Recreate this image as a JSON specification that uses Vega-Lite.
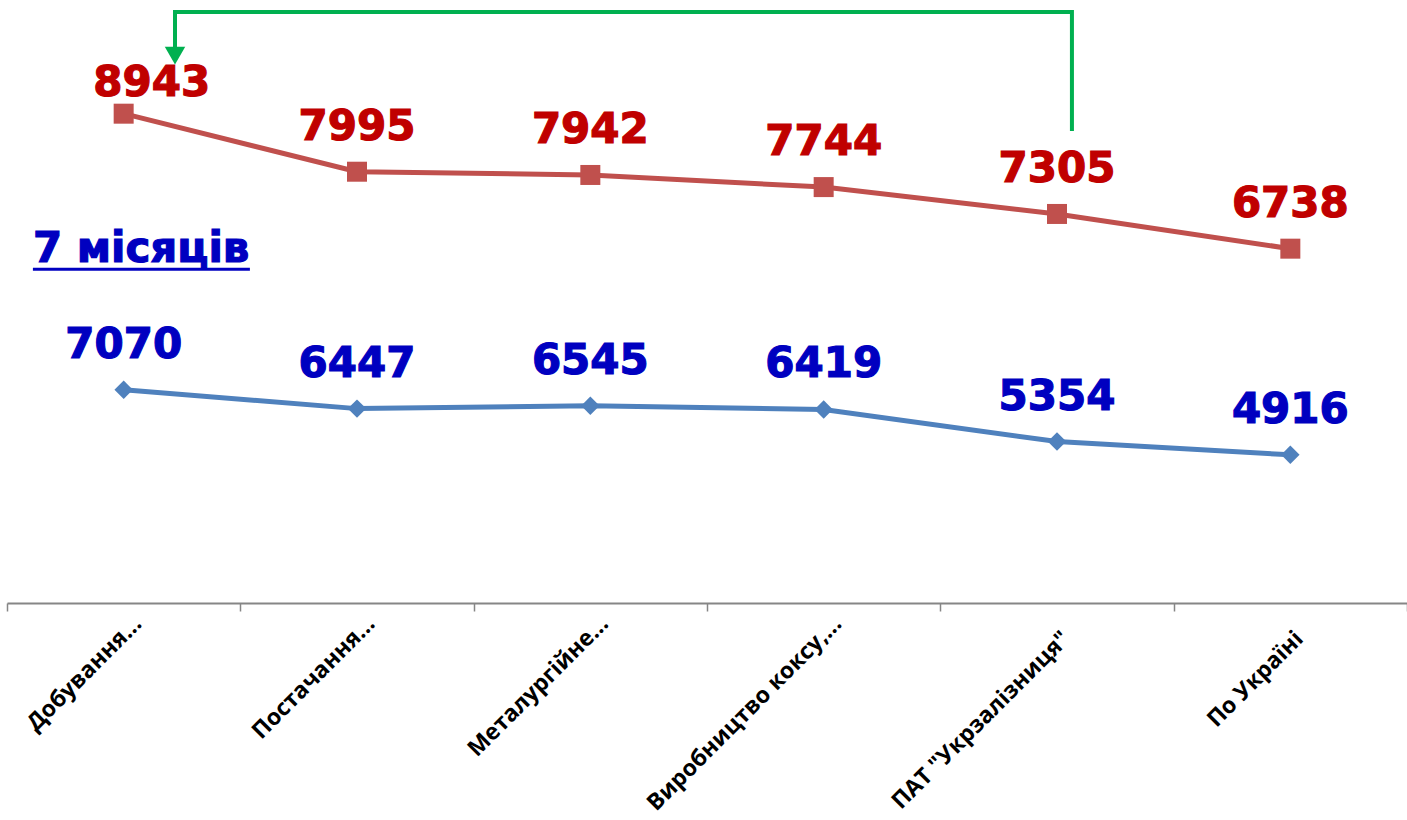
{
  "$schema": "https://vega.github.io/schema/vega-lite/v6.json",
  "autosize": "none",
  "width": 1400,
  "height": 603,
  "padding": {"left": 7, "top": 0, "right": 0, "bottom": 217},
  "background": "white",
  "config": {"view": {"stroke": null}},
  "datasets": {
    "main": [
      {"cat": "Добування...", "red": 8943, "blue": 7070, "first": true},
      {"cat": "Постачання...", "red": 7995, "blue": 6447, "first": false},
      {"cat": "Металургійне...", "red": 7942, "blue": 6545, "first": false},
      {"cat": "Виробництво коксу,...", "red": 7744, "blue": 6419, "first": false},
      {"cat": "ПАТ \"Укрзалізниця\"", "red": 7305, "blue": 5354, "first": false},
      {"cat": "По Україні", "red": 6738, "blue": 4916, "first": false}
    ],
    "bracket": [
      {"i": 0, "pos": 4.564, "val": 8660},
      {"i": 1, "pos": 4.564, "val": 10604},
      {"i": 2, "pos": 0.72, "val": 10604},
      {"i": 3, "pos": 0.72, "val": 9990}
    ],
    "arrow": [{"pos": 0.72, "val": 9890}],
    "note": [{"label": "7 місяців", "pos": 0.111, "pos2": 1.041, "val": 6520, "uval": 6400}]
  },
  "resolve": {"scale": {"x": "independent", "y": "independent"}},
  "layer": [
    {
      "data": {"name": "main"},
      "encoding": {
        "x": {
          "field": "cat", "type": "nominal", "sort": null,
          "scale": {"domain": ["Добування...", "Постачання...", "Металургійне...", "Виробництво коксу,...", "ПАТ \"Укрзалізниця\"", "По Україні"], "paddingInner": 0, "paddingOuter": 0},
          "axis": {
            "title": null, "tickBand": "extent", "labelAngle": -45, "labelAlign": "right", "labelBaseline": "top",
            "labelFont": "Open Sans", "labelFontSize": 23, "labelFontWeight": "bold", "labelColor": "#000000",
            "labelOffset": {"expr": "test(/[.][.][.]$/, datum.label) ? 6 : 1"},
            "labelPadding": {"expr": "test(/[.][.][.]$/, datum.label) ? 1 : 16"},
            "labelLimit": 0, "labelOverlap": false,
            "domainColor": "#868686", "domainWidth": 2, "tickColor": "#868686", "tickWidth": 1.5, "tickSize": 8
          }
        },
        "y": {"field": "red", "type": "quantitative", "scale": {"domain": [950, 10800], "zero": false, "nice": false}, "axis": null}
      },
      "layer": [
        {"mark": {"type": "line", "color": "#C0504D", "strokeWidth": 5}},
        {"mark": {"type": "point", "shape": "square", "size": 400, "filled": true, "color": "#C0504D", "opacity": 1}},
        {
          "transform": [{"filter": "!datum.first"}],
          "mark": {"type": "text", "font": "DejaVu Sans", "fontSize": 42, "fontWeight": "bold", "color": "#C00000", "stroke": "#C00000", "strokeWidth": 1.2, "baseline": "alphabetic", "dy": -32},
          "encoding": {"text": {"field": "red", "type": "nominal"}}
        },
        {
          "transform": [{"filter": "datum.first"}],
          "mark": {"type": "text", "font": "DejaVu Sans", "fontSize": 42, "fontWeight": "bold", "color": "#C00000", "stroke": "#C00000", "strokeWidth": 1.2, "baseline": "alphabetic", "dy": -18, "dx": 28},
          "encoding": {"text": {"field": "red", "type": "nominal"}}
        }
      ]
    },
    {
      "data": {"name": "main"},
      "encoding": {
        "x": {
          "field": "cat", "type": "nominal", "sort": null,
          "scale": {"domain": ["Добування...", "Постачання...", "Металургійне...", "Виробництво коксу,...", "ПАТ \"Укрзалізниця\"", "По Україні"], "paddingInner": 0, "paddingOuter": 0},
          "axis": null
        },
        "y": {"field": "blue", "type": "quantitative", "scale": {"domain": [0, 20000], "nice": false}, "axis": null}
      },
      "layer": [
        {"mark": {"type": "line", "color": "#4F81BD", "strokeWidth": 5}},
        {"mark": {"type": "point", "shape": "diamond", "size": 340, "filled": true, "color": "#4F81BD", "opacity": 1}},
        {
          "mark": {"type": "text", "font": "DejaVu Sans", "fontSize": 42, "fontWeight": "bold", "color": "#0000C0", "stroke": "#0000C0", "strokeWidth": 1.2, "baseline": "alphabetic", "dy": -32},
          "encoding": {"text": {"field": "blue", "type": "nominal"}}
        }
      ]
    },
    {
      "data": {"name": "bracket"},
      "mark": {"type": "line", "color": "#00B050", "strokeWidth": 4, "strokeJoin": "miter"},
      "encoding": {
        "x": {"field": "pos", "type": "quantitative", "scale": {"domain": [0, 6], "nice": false, "zero": false}, "axis": null},
        "y": {"field": "val", "type": "quantitative", "scale": {"domain": [950, 10800], "nice": false, "zero": false}, "axis": null},
        "order": {"field": "i"}
      }
    },
    {
      "data": {"name": "arrow"},
      "mark": {"type": "point", "shape": "triangle-down", "size": 420, "filled": true, "color": "#00B050", "opacity": 1},
      "encoding": {
        "x": {"field": "pos", "type": "quantitative", "scale": {"domain": [0, 6], "nice": false, "zero": false}, "axis": null},
        "y": {"field": "val", "type": "quantitative", "scale": {"domain": [950, 10800], "nice": false, "zero": false}, "axis": null}
      }
    },
    {
      "data": {"name": "note"},
      "encoding": {
        "x": {"field": "pos", "type": "quantitative", "scale": {"domain": [0, 6], "nice": false, "zero": false}, "axis": null}
      },
      "layer": [
        {
          "mark": {"type": "text", "font": "DejaVu Sans", "fontSize": 42, "fontWeight": "bold", "color": "#0000C0", "stroke": "#0000C0", "strokeWidth": 1.2, "align": "left", "baseline": "alphabetic"},
          "encoding": {
            "y": {"field": "val", "type": "quantitative", "scale": {"domain": [950, 10800], "nice": false, "zero": false}, "axis": null},
            "text": {"field": "label"}
          }
        },
        {
          "mark": {"type": "rule", "color": "#0000C0", "strokeWidth": 3},
          "encoding": {
            "x2": {"field": "pos2"},
            "y": {"field": "uval", "type": "quantitative", "scale": {"domain": [950, 10800], "nice": false, "zero": false}, "axis": null}
          }
        }
      ]
    }
  ]
}
